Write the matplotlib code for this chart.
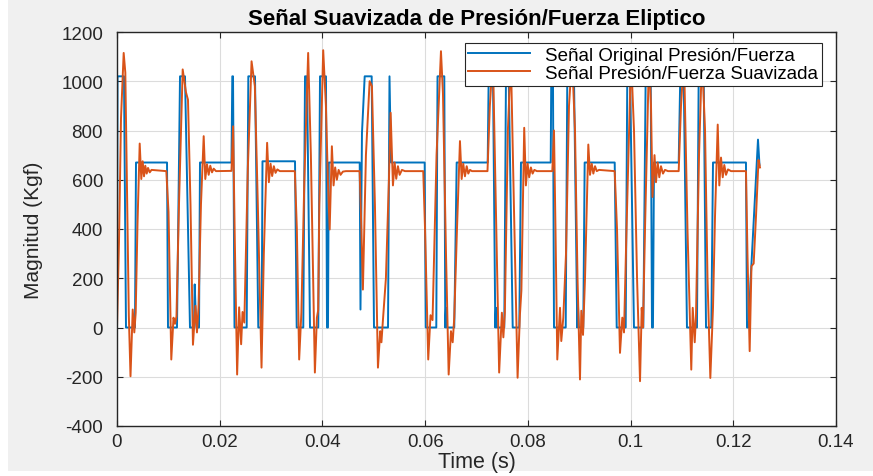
import numpy as np
import matplotlib
matplotlib.use("Agg")
import matplotlib.pyplot as plt
from matplotlib.patches import Rectangle

plt.rcParams['font.family'] = ['Liberation Sans', 'DejaVu Sans']
plt.rcParams['axes.unicode_minus'] = False

# Original pressure/force signal: breakpoints (time in ms, magnitude in Kgf)
orig_t_ms = [0.0, 0.1, 1.36, 1.75, 3.50, 3.70, 9.74, 9.93, 11.68, 12.27, 13.24, 14.21,
             14.99, 15.13, 15.28, 15.48, 15.97, 16.16, 22.29, 22.45, 22.59, 22.88,
             25.25, 25.57, 26.87, 27.51, 28.17, 28.33, 34.66, 34.99, 36.27, 36.61,
             36.99, 37.58, 39.19, 39.53, 40.69, 40.89, 41.08, 41.24, 47.26, 47.41,
             47.70, 48.23, 49.59, 50.04, 52.77, 53.06, 53.35, 59.91, 60.11, 62.17,
             62.41, 63.73, 63.92, 64.06, 64.22, 65.67, 66.14, 72.18, 72.37, 73.21,
             73.66, 73.80, 73.95, 75.41, 75.74, 76.27, 77.05, 78.33, 78.66, 84.45,
             84.56, 84.89, 85.09, 87.37, 87.68, 88.98, 89.62, 89.76, 89.92, 90.79,
             91.06, 96.91, 97.30, 99.05, 99.36, 99.89, 100.66, 102.48, 102.94,
             103.92, 104.17, 104.36, 104.56, 109.37, 109.68, 110.34, 110.98, 112.93,
             113.26, 114.24, 114.69, 115.72, 116.05, 122.47, 122.67, 123.00, 123.31,
             124.81, 125.10]
orig_v = [0, 1020, 1020, 0, 0, 670, 670, 0, 0, 1020, 1020, 0,
          0, 175, 85, 0, 0, 670, 670, 1020, 1020, 0,
          0, 1020, 1020, 0, 0, 675, 675, 0, 0, 1020,
          1020, 0, 0, 1020, 1020, 0, 0, 670, 670, 73,
          790, 1020, 1020, 0, 0, 1020, 670, 670, 0, 0,
          1020, 1020, 0, 80, 0, 0, 670, 670, 1020, 1020,
          0, 80, 0, 0, 1020, 1020, 0, 0, 670, 670,
          1020, 1020, 0, 0, 1020, 1020, 0, 90, 0, 0,
          670, 670, 0, 0, 1020, 1020, 0, 0, 1020,
          1020, 0, 0, 670, 670, 1020, 1020, 0, 0,
          1020, 1020, 0, 0, 670, 670, 0, 0, 168,
          763, 660]

# Smoothed signal: breakpoints (time in ms, magnitude in Kgf)
smooth_pts = [
    (0.0, 0), (0.39, 350), (0.78, 850), (1.30, 1115), (1.62, 1035), (1.95, 560),
    (2.30, 50), (2.63, -198), (3.06, 73), (3.37, -20), (3.64, 60), (3.99, 420),
    (4.42, 747), (4.73, 603), (5.00, 675), (5.26, 614), (5.51, 657), (5.78, 625),
    (6.04, 648), (6.37, 630), (6.72, 640), (9.60, 635), (10.03, 470), (10.57, -130),
    (11.00, 40), (11.29, 15), (11.58, 45), (12.07, 500), (12.79, 1048), (13.43, 955),
    (13.82, 925), (14.31, 500), (14.79, -70), (15.28, 88), (15.57, -20), (15.87, 80),
    (16.35, 500), (16.88, 777), (17.19, 603), (17.52, 663), (17.85, 620), (18.16, 657),
    (18.50, 630), (18.83, 645), (19.27, 635), (22.29, 636), (22.61, 817), (22.94, 350),
    (23.39, -191), (23.78, 82), (24.17, -68), (24.44, 63), (24.79, 20), (25.48, 650),
    (26.20, 1081), (26.84, 980), (27.42, 500), (28.14, -163), (28.59, 300), (29.23, 750),
    (29.57, 590), (29.90, 665), (30.21, 615), (30.54, 655), (30.87, 628), (31.22, 642),
    (31.71, 635), (34.63, 635), (35.02, 400), (35.47, -130), (35.90, 60), (36.48, 600),
    (37.22, 1115), (37.75, 700), (38.53, -183), (38.92, 40), (39.17, 70), (39.40, 500),
    (40.15, 1126), (40.68, 900), (41.06, 600), (41.41, 398), (41.84, 736), (42.17, 577),
    (42.48, 650), (42.81, 600), (43.15, 640), (43.53, 620), (43.98, 633), (44.57, 635),
    (47.24, 635), (47.59, 400), (47.88, 154), (48.47, 700), (49.19, 1000), (49.64, 980),
    (50.22, 500), (50.81, -163), (51.25, -15), (51.49, -60), (51.78, 30), (52.36, 200),
    (52.95, 600), (53.28, 872), (53.73, 577), (54.06, 670), (54.37, 604), (54.70, 655),
    (55.03, 620), (55.48, 640), (56.07, 635), (59.63, 635), (59.98, 400), (60.60, -130),
    (61.05, 50), (61.44, 30), (62.22, 700), (63.08, 1122), (63.47, 950), (64.06, 300),
    (64.58, -191), (65.03, -15), (65.36, -60), (65.67, 40), (66.20, 400), (66.78, 757),
    (67.11, 603), (67.42, 665), (67.75, 614), (68.09, 655), (68.40, 625), (68.73, 640),
    (69.12, 635), (72.14, 635), (72.60, 900), (73.19, 1100), (73.77, 500), (74.41, -183),
    (74.94, 60), (75.23, -40), (75.52, 60), (76.11, 800), (76.69, 1100), (77.28, 500),
    (78.00, -204), (78.45, 50), (78.74, 150), (79.29, 811), (79.62, 577), (79.95, 665),
    (80.26, 610), (80.59, 650), (80.92, 625), (81.27, 640), (81.76, 635), (84.76, 635),
    (85.09, 800), (85.38, 400), (85.73, -130), (86.26, 80), (86.51, -55), (86.90, 40),
    (87.43, 300), (88.01, 900), (88.60, 1100), (89.18, 800), (89.67, 200), (90.15, -211),
    (90.41, 68), (90.74, -30), (91.13, 200), (91.77, 743), (92.10, 620), (92.44, 665),
    (92.75, 625), (93.08, 655), (93.41, 635), (93.86, 640), (96.91, 635), (97.36, 400),
    (97.94, -103), (98.39, 40), (98.72, -20), (99.21, 400), (100.09, 1100), (100.67, 800),
    (101.26, 200), (101.84, -218), (102.17, 80), (102.42, 0), (102.81, 400), (103.59, 1100),
    (103.98, 900), (104.27, 530), (104.66, 700), (104.95, 590), (105.28, 670),
    (105.59, 610), (105.92, 655), (106.31, 625), (106.70, 640), (107.29, 635),
    (109.37, 635), (109.82, 900), (110.40, 1100), (111.08, 400), (111.82, -171),
    (112.10, 80), (112.49, -60), (112.74, 50), (113.33, 700), (113.91, 1100),
    (114.50, 800), (114.98, 200), (115.53, -205), (116.05, 80), (116.44, 450),
    (116.97, 824), (117.28, 577), (117.61, 690), (117.94, 610), (118.25, 660),
    (118.58, 620), (118.97, 642), (119.56, 635), (122.47, 635), (122.76, 300),
    (123.19, -96), (123.54, 249), (123.97, 260), (124.42, 450), (124.91, 680),
    (125.20, 650),
]
smooth_t_ms = [p[0] for p in smooth_pts]
smooth_v = [p[1] for p in smooth_pts]

x_ticks = [0, 0.02, 0.04, 0.06, 0.08, 0.1, 0.12, 0.14]
x_tick_labels = ['0', '0.02', '0.04', '0.06', '0.08', '0.1', '0.12', '0.14']
y_ticks = list(range(-400, 1201, 200))

BLUE = '#0072BD'
ORANGE = '#D95319'
INK = '#262626'

fig = plt.figure(figsize=(8.73, 4.77), dpi=100, facecolor='white')
fig.patches.append(Rectangle((8 / 873, 5 / 477), 1, 1, transform=fig.transFigure,
                             facecolor='#f0f0f0', edgecolor='none', zorder=-10))

ax = fig.add_axes([117 / 873, 50 / 477, 719 / 873, 394 / 477])
ax.set_facecolor('white')

t_orig = np.array(orig_t_ms) / 1000.0
t_smooth = np.array(smooth_t_ms) / 1000.0
ax.plot(t_orig, orig_v, color=BLUE, lw=1.4, label='Señal Original Presión/Fuerza')
ax.plot(t_smooth, smooth_v, color=ORANGE, lw=1.4, label='Señal Presión/Fuerza Suavizada')

ax.set_xlim(0, 0.14)
ax.set_ylim(-400, 1200)
ax.set_xticks(x_ticks)
ax.set_xticklabels(x_tick_labels)
ax.set_yticks(y_ticks)
ax.grid(True, color='#dcdcdc', lw=0.8)
ax.set_axisbelow(True)

for s in ax.spines.values():
    s.set_color(INK)
    s.set_linewidth(1.0)
ax.tick_params(direction='in', top=True, right=True, length=4, width=0.8,
               colors=INK, labelsize=13.5)
ax.tick_params(axis='y', pad=10)
ax.tick_params(axis='x', pad=5)

ax.set_title('Señal Suavizada de Presión/Fuerza Eliptico', fontsize=16,
             fontweight='bold', color='black', pad=6)
ax.set_xlabel('Time (s)', fontsize=15.5, color=INK, labelpad=1)
ax.set_ylabel('Magnitud (Kgf)', fontsize=15, color=INK, labelpad=13)

leg = ax.legend(loc='upper right', bbox_to_anchor=(822 / 873, (477 - 44) / 477),
                bbox_transform=fig.transFigure, fontsize=13.5, frameon=True,
                fancybox=False, framealpha=1, edgecolor=INK, handlelength=3.3,
                borderpad=0.2, labelspacing=0.05, handletextpad=0.8, borderaxespad=0)
leg.get_frame().set_linewidth(0.8)

fig.savefig('out.png', dpi=100, facecolor=fig.get_facecolor())
